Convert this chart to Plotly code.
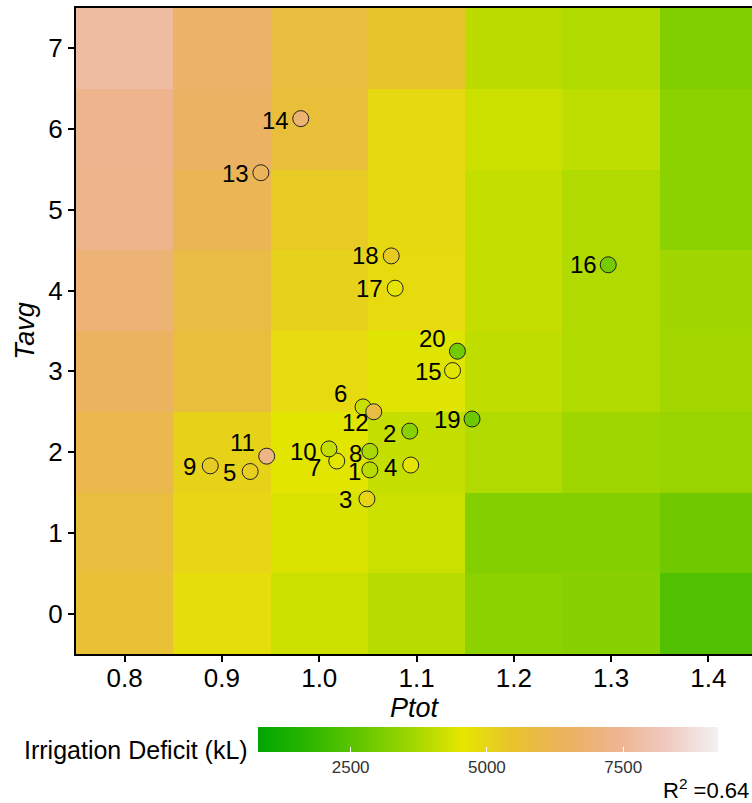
import plotly.graph_objects as go

# Grid axes of the response surface
ptot_levels = [0.8, 0.9, 1.0, 1.1, 1.2, 1.3, 1.4]
tavg_levels = [0, 1, 2, 3, 4, 5, 6, 7]

# Irrigation deficit (kL) on the grid, one row per Tavg level (0..7)
deficit_grid = [
    [5650, 4760, 4200, 3940, 3300, 3250, 2340],
    [5800, 5000, 4390, 4200, 3180, 3180, 2880],
    [6100, 5090, 4490, 4100, 3830, 3610, 3520],
    [6450, 5760, 4870, 4460, 4040, 3830, 3670],
    [6850, 5900, 5100, 4850, 4100, 3830, 3640],
    [7300, 6250, 5300, 4900, 4100, 3830, 3300],
    [7350, 6550, 5700, 4900, 4200, 4020, 3300],
    [7700, 6650, 5800, 5450, 3990, 3830, 3120],
]

# Observed sites
site_ids = [str(i) for i in range(1, 21)]
site_ptot = [1.052, 1.093, 1.049, 1.094, 0.929, 1.045, 1.018, 1.052, 0.888, 1.010,
             0.946, 1.056, 0.940, 0.981, 1.137, 1.297, 1.078, 1.074, 1.157, 1.142]
site_tavg = [1.78, 2.26, 1.42, 1.84, 1.76, 2.56, 1.89, 2.01, 1.83, 2.04,
             1.95, 2.50, 5.46, 6.13, 3.01, 4.32, 4.03, 4.43, 2.41, 3.25]
site_deficit = [3950, 3250, 5000, 4600, 5200, 4150, 4500, 3750, 5300, 4100,
                7200, 5900, 6300, 6800, 4500, 2950, 4600, 5300, 2850, 2900]

colorbar_ticks = [2500, 5000, 7500]
r_squared = 0.64

# R terrain.colors(10)
terrain = ["#00A600", "#2DB600", "#63C600", "#A0D600", "#E6E600",
           "#E8C32E", "#EBB25E", "#EDB48E", "#F0C9C0", "#F2F2F2"]
colorscale = [[i / (len(terrain) - 1), c] for i, c in enumerate(terrain)]

# Label nudges in pixels (right edge of text relative to point, vertical offset downwards)
label_nudge = {
    "1": (-7, 2), "2": (-12, 2), "3": (-13, 1), "4": (-12, 2), "5": (-12, 1),
    "6": (-14, -13), "7": (-14, 6), "8": (-6, 2), "9": (-12, 1), "10": (-10, 3),
    "11": (-10, -14), "12": (-3, 11), "13": (-10, 1), "14": (-10, 2), "15": (-9, 1),
    "16": (-9, 0), "17": (-10, 0), "18": (-10, 0), "19": (-9, 0), "20": (-9, -13),
}

FONT = "Liberation Sans, Arial, sans-serif"
W, H = 752, 803
ML, MR, MT, MB = 76, 0, 8, 149

fig = go.Figure()

fig.add_trace(go.Heatmap(
    x=ptot_levels, y=tavg_levels, z=deficit_grid,
    coloraxis="coloraxis", hoverinfo="skip",
))

fig.add_trace(go.Scatter(
    x=site_ptot, y=site_tavg, mode="markers",
    marker=dict(size=16, color=site_deficit, coloraxis="coloraxis",
                line=dict(color="#222222", width=1)),
    showlegend=False,
))

for sid, px, ty in zip(site_ids, site_ptot, site_tavg):
    dx, dy = label_nudge[sid]
    fig.add_annotation(
        x=px, y=ty, text=sid, showarrow=False,
        xanchor="right", yanchor="middle",
        xshift=dx, yshift=-dy,
        font=dict(family=FONT, size=24, color="black"),
    )

plot_w = W - ML - MR
plot_h = H - MT - MB

fig.update_layout(
    width=W, height=H,
    margin=dict(l=ML, r=MR, t=MT, b=MB),
    paper_bgcolor="white", plot_bgcolor="white",
    font=dict(family=FONT, color="black"),
    coloraxis=dict(
        colorscale=colorscale, cmin=800, cmax=9240,
        colorbar=dict(
            orientation="h",
            x=(488 - ML) / plot_w, xanchor="center",
            y=(MT + plot_h - 727) / plot_h, yanchor="top",
            len=460, lenmode="pixels",
            thickness=25, thicknessmode="pixels",
            outlinewidth=0, xpad=0, ypad=0,
            ticks="inside", ticklen=5, tickcolor="white", tickwidth=1,
            tickvals=colorbar_ticks,
            tickfont=dict(family=FONT, size=17, color="#333333"),
        ),
    ),
    xaxis=dict(
        range=[0.75, 0.75 + plot_w / 973.0],
        tickvals=[0.8, 0.9, 1.0, 1.1, 1.2, 1.3, 1.4],
        ticktext=["0.8", "0.9", "1.0", "1.1", "1.2", "1.3", "1.4"],
        ticks="outside", ticklen=6, tickwidth=1.5, tickcolor="black",
        ticklabelstandoff=-6,
        showline=True, linecolor="black", linewidth=2, mirror=True,
        showgrid=False, zeroline=False,
        tickfont=dict(family=FONT, size=26, color="black"),
        title=dict(text="<i>Ptot</i>", font=dict(family=FONT, size=27, color="black"), standoff=4),
    ),
    yaxis=dict(
        range=[-0.5, 7.5],
        tickvals=tavg_levels,
        ticks="outside", ticklen=6, tickwidth=1.5, tickcolor="black",
        showline=True, linecolor="black", linewidth=2, mirror=False,
        showgrid=False, zeroline=False,
        tickfont=dict(family=FONT, size=26, color="black"),
        title=dict(text="<i>Tavg</i>", font=dict(family=FONT, size=27, color="black"), standoff=6),
    ),
)

# Colorbar title placed to the left of the bar
fig.add_annotation(
    xref="paper", yref="paper",
    x=(250 - ML) / plot_w, y=(MT + plot_h - 750) / plot_h,
    xanchor="right", yanchor="middle", showarrow=False,
    text="Irrigation Deficit (kL)",
    font=dict(family=FONT, size=25, color="black"),
)

# Goodness of fit of the surface
fig.add_annotation(
    xref="paper", yref="paper",
    x=(751 - ML) / plot_w, y=(MT + plot_h - 789) / plot_h,
    xanchor="right", yanchor="middle", showarrow=False,
    text=f"R<sup>2</sup> ={r_squared:.2f}",
    font=dict(family=FONT, size=22, color="black"),
)

fig.write_html("out.html")
